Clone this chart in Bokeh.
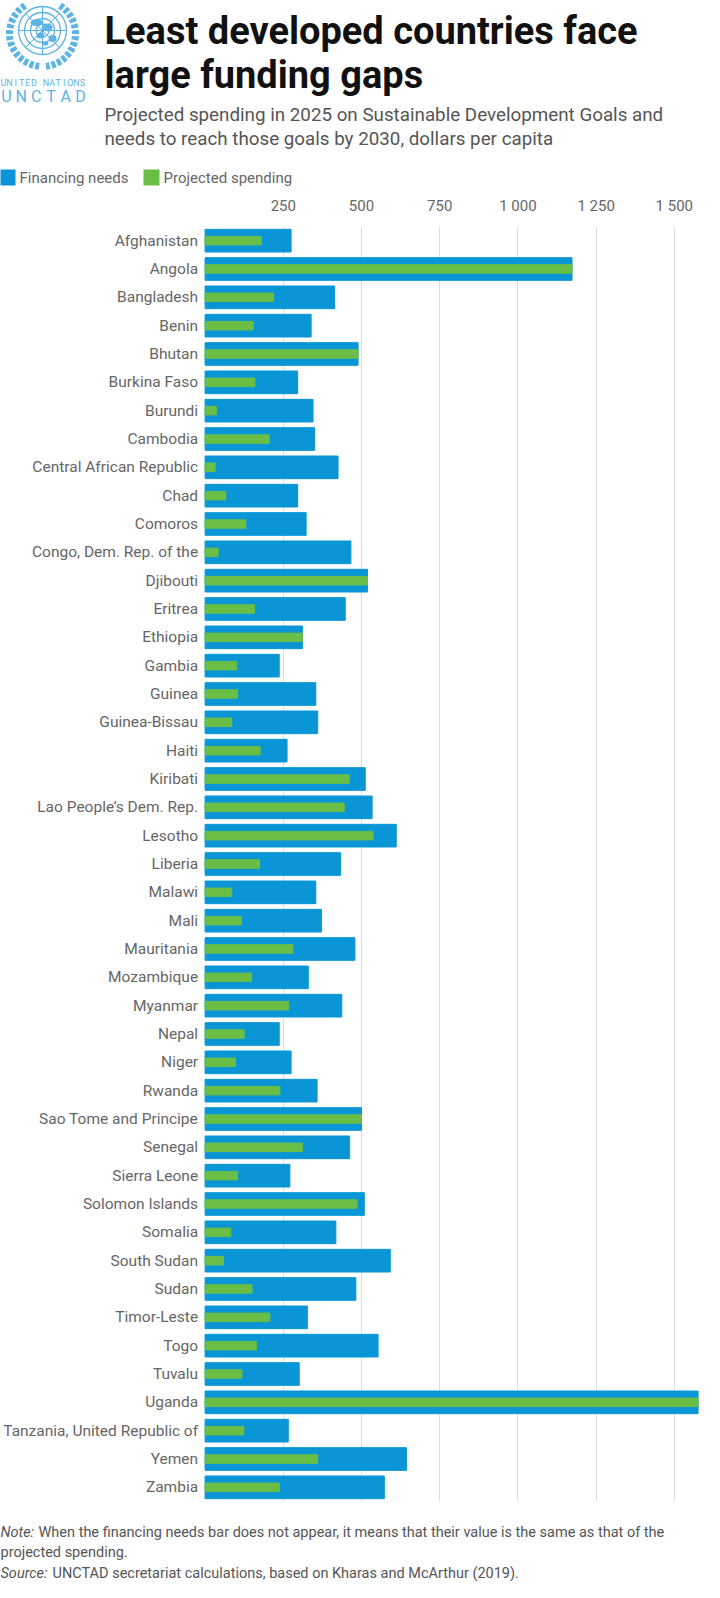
import numpy as np
from bokeh.plotting import figure
from bokeh.models import Range1d, FactorRange, FixedTicker, ColumnDataSource
from bokeh.layouts import column
from bokeh.core.properties import value
from bokeh.embed import file_html
from bokeh.resources import INLINE

countries = ["Afghanistan", "Angola", "Bangladesh", "Benin", "Bhutan", "Burkina Faso",
             "Burundi", "Cambodia", "Central African Republic", "Chad", "Comoros",
             "Congo, Dem. Rep. of the", "Djibouti", "Eritrea", "Ethiopia", "Gambia",
             "Guinea", "Guinea-Bissau", "Haiti", "Kiribati", "Lao People\u2019s Dem. Rep.",
             "Lesotho", "Liberia", "Malawi", "Mali", "Mauritania", "Mozambique", "Myanmar",
             "Nepal", "Niger", "Rwanda", "Sao Tome and Principe", "Senegal", "Sierra Leone",
             "Solomon Islands", "Somalia", "South Sudan", "Sudan", "Timor-Leste", "Togo",
             "Tuvalu", "Uganda", "Tanzania, United Republic of", "Yemen", "Zambia"]

financing_needs = [275, 1173, 414, 339, 489, 296, 345, 350, 425, 296, 323,
                   466, 519, 448, 311, 237, 354, 360, 262, 512, 534,
                   611, 433, 354, 372, 479, 330, 437, 237, 275, 358,
                   500, 462, 271, 509, 418, 592, 482, 327, 553, 301,
                   1576, 266, 644, 573]

projected_spending = [180, 1173, 219, 154, 489, 159, 36, 205, 32, 66, 130,
                      42, 519, 158, 311, 101, 104, 85, 176, 461, 445,
                      537, 174, 85, 116, 281, 149, 267, 125, 97, 239,
                      500, 311, 104, 486, 82, 59, 150, 207, 164, 118,
                      1576, 124, 360, 237]

x_ticks = [250, 500, 750, 1000, 1250, 1500]
x_tick_labels = ["250", "500", "750", "1 000", "1 250", "1 500"]

BLUE = "#0A96D6"
GREEN = "#6ABE45"
LOGO = "#5DB3E3"
GREY = "#666666"
FONT = "Roboto"
W = 704

# ---------- header: logo, title, subtitle, legend ----------
hdr = figure(width=W, height=192, x_range=Range1d(0, W), y_range=Range1d(192, 0),
             output_backend="svg", toolbar_location=None, min_border=0)
hdr.axis.visible = False
hdr.grid.visible = False
hdr.outline_line_color = None

cx, cy = 42, 30
for r in [24, 18, 12, 6.5]:
    hdr.circle(cx, cy, radius=r, fill_color=None, line_color=LOGO, line_width=1.3)
for a in np.linspace(0, np.pi, 5)[:-1]:
    hdr.segment(cx - 24 * np.cos(a), cy - 24 * np.sin(a), cx + 24 * np.cos(a), cy + 24 * np.sin(a),
                line_color=LOGO, line_width=1)
hdr.ellipse([cx - 6, cx + 5, cx + 10, cx - 2, cx + 3], [cy - 8, cy - 3, cy + 8, cy + 5, cy + 13],
            width=[12, 10, 8, 8, 6], height=[7, 8, 7, 6, 4], fill_color=LOGO, line_color=None)
for side in [-1, 1]:
    t = np.linspace(np.radians(-58), np.radians(84), 30)
    hdr.line(cx + side * 33 * np.cos(t), cy + 33 * np.sin(t) + 3, line_color=LOGO,
             line_width=7, line_dash="4 2")
un_chars = list("UNITED NATIONS")
hdr.text(np.linspace(3, 82, len(un_chars)), [82] * len(un_chars), text=un_chars,
         text_font=value(FONT), text_font_size=value("9px"), text_color=LOGO,
         text_align="center", text_baseline="middle")
unctad_chars = list("UNCTAD")
hdr.text(np.linspace(6, 80, len(unctad_chars)), [96] * len(unctad_chars), text=unctad_chars,
         text_font=value(FONT), text_font_size=value("16px"), text_color=LOGO,
         text_align="center", text_baseline="middle")

hdr.text([104, 104], [30, 74], text=["Least developed countries face", "large funding gaps"],
         text_font=value(FONT), text_font_size=value("38px"), text_font_style="bold",
         text_color="#111111", text_baseline="alphabetic")
hdr.text([104, 104], [114, 138],
         text=["Projected spending in 2025 on Sustainable Development Goals and",
               "needs to reach those goals by 2030, dollars per capita"],
         text_font=value(FONT), text_font_size=value("18.8px"), text_color="#555555",
         text_baseline="alphabetic")

hdr.rect([7, 151], [177, 177], width=16, height=16, fill_color=[BLUE, GREEN], line_color=None)
hdr.text([19, 163], [177, 177], text=["Financing needs", "Projected spending"],
         text_font=value(FONT), text_font_size=value("15px"), text_color=GREY,
         text_baseline="middle")

# ---------- main bar chart ----------
# frame spans the full width; zero sits 204.6 px from the left edge
px_per_unit = 78.2 / 250
x_start = -204.6 / px_per_unit
x_end = x_start + W / px_per_unit

source = ColumnDataSource(data=dict(country=countries, needs=financing_needs,
                                    spending=projected_spending,
                                    label_x=[-7 / px_per_unit] * len(countries)))

p = figure(width=W, height=1315, y_range=FactorRange(factors=countries[::-1]),
           x_range=Range1d(x_start, x_end), x_axis_location="above",
           output_backend="svg", toolbar_location=None,
           min_border_left=0, min_border_right=0, min_border_top=34, min_border_bottom=6)
p.outline_line_color = None
p.yaxis.visible = False

p.hbar(y="country", right="needs", height=0.80, color=BLUE, source=source)
p.hbar(y="country", right="spending", height=0.30, color=GREEN, source=source)
p.text(x="label_x", y="country", text="country", source=source, text_align="right",
       text_baseline="middle", text_font=value(FONT), text_font_size=value("15.5px"),
       text_color=GREY)

p.xaxis.ticker = FixedTicker(ticks=x_ticks)
p.xaxis.major_label_overrides = dict(zip(x_ticks, x_tick_labels))
p.xgrid.ticker = FixedTicker(ticks=x_ticks)
p.xgrid.grid_line_color = "#dcdcdc"
p.ygrid.grid_line_color = None
p.xaxis.axis_line_color = None
p.xaxis.major_tick_line_color = None
p.xaxis.minor_tick_line_color = None
p.xaxis.major_label_text_font = FONT
p.xaxis.major_label_text_font_size = "15px"
p.xaxis.major_label_text_color = GREY
p.xaxis.major_label_standoff = 6

# ---------- footer: note and source ----------
ftr = figure(width=W, height=75, x_range=Range1d(0, W), y_range=Range1d(75, 0),
             output_backend="svg", toolbar_location=None, min_border=0)
ftr.axis.visible = False
ftr.grid.visible = False
ftr.outline_line_color = None
fs = value("14.5px")
ftr.text([0, 0], [25, 66], text=["Note:", "Source:"], text_font=value(FONT), text_font_size=fs,
         text_font_style="italic", text_color="#555555", text_baseline="middle")
ftr.text([38, 0, 52], [25, 45, 66],
         text=["When the financing needs bar does not appear, it means that their value is the same as that of the",
               "projected spending.",
               "UNCTAD secretariat calculations, based on Kharas and McArthur (2019)."],
         text_font=value(FONT), text_font_size=fs, text_color="#555555", text_baseline="middle")

layout = column(hdr, p, ftr, spacing=0)
open("out.html", "w").write(file_html(layout, INLINE))
